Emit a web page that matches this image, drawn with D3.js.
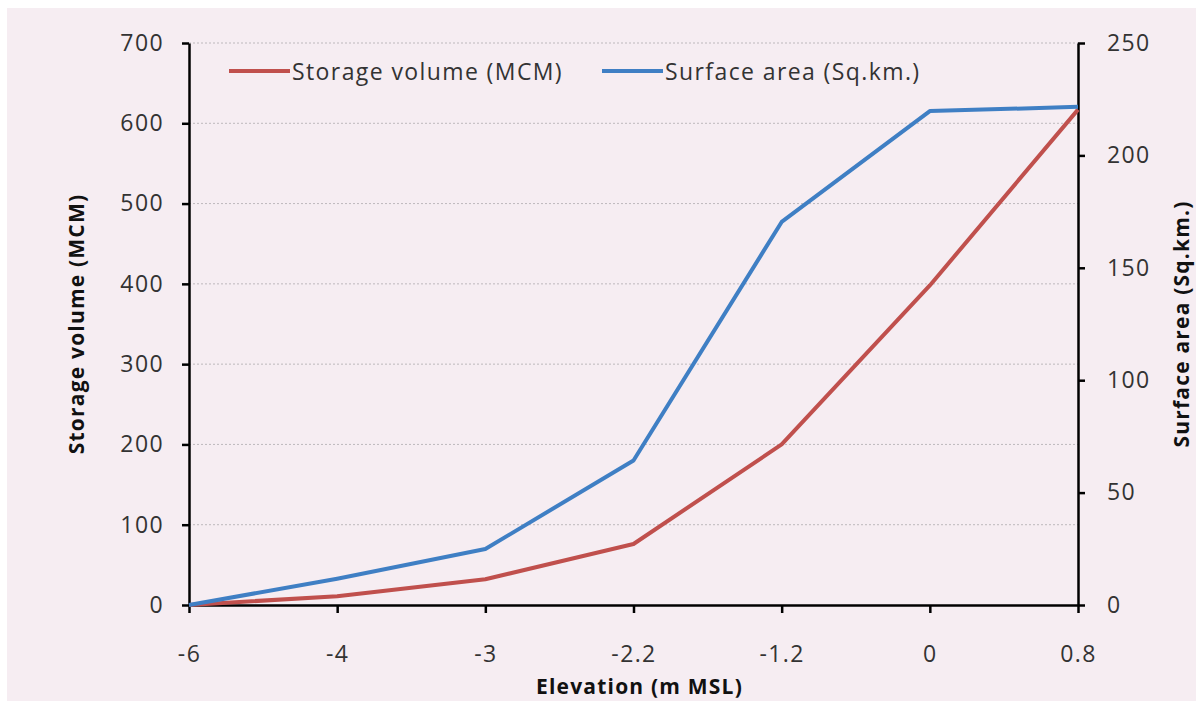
<!DOCTYPE html>
<html><head><meta charset="utf-8">
<script src="https://cdn.jsdelivr.net/npm/d3@7"></script>
<style>body{margin:0;background:#fff}svg{display:block}</style>
</head><body>
<script>
const categories = ["-6","-4","-3","-2.2","-1.2","0","0.8"];
const storageVolume = [0, 11, 32, 76, 200, 398, 617];
const surfaceArea = [0, 11.7, 24.9, 64.3, 170.4, 219.7, 221.6];
const leftTicks = [0,100,200,300,400,500,600,700];
const rightTicks = [0,50,100,150,200,250];

const W = 1196, H = 701;
const m = {l:189, r:W-1078, t:43, b:H-605};
const svg = d3.select("body").append("svg").attr("width",W).attr("height",H);
svg.append("rect").attr("x",7).attr("y",8).attr("width",1189).attr("height",693).attr("fill","#f6edf2");

const x = d3.scalePoint().domain(categories).range([m.l, W-m.r]);
const yL = d3.scaleLinear().domain([0,700]).range([H-m.b, m.t]);
const yR = d3.scaleLinear().domain([0,250]).range([H-m.b, m.t]);
const font = "'Open Sans', 'Liberation Sans', sans-serif";
const fs = 23, ls = 1.4;

// gridlines
svg.append("g").selectAll("line").data(leftTicks.slice(1)).join("line")
  .attr("x1",m.l).attr("x2",W-m.r).attr("y1",d=>yL(d)).attr("y2",d=>yL(d))
  .attr("stroke","#bdb8bc").attr("stroke-width",1).attr("stroke-dasharray","2,2");

function styleAxis(g){
  g.selectAll(".domain").attr("stroke","#000").attr("stroke-width",2.5);
  g.selectAll(".tick line").attr("stroke","#000").attr("stroke-width",2.5);
  g.selectAll(".tick text").attr("font-family",font).attr("font-size",fs)
    .attr("letter-spacing",ls).attr("fill","#333");
}
svg.append("g").attr("transform",`translate(${m.l},0)`)
  .call(d3.axisLeft(yL).tickValues(leftTicks).tickSize(7).tickPadding(18).tickSizeOuter(0))
  .call(styleAxis);
svg.append("g").attr("transform",`translate(${W-m.r},0)`)
  .call(d3.axisRight(yR).tickValues(rightTicks).tickSize(7).tickPadding(22).tickSizeOuter(0))
  .call(styleAxis);
svg.append("g").attr("transform",`translate(0,${H-m.b})`)
  .call(d3.axisBottom(x).tickSize(8).tickPadding(33).tickSizeOuter(0))
  .call(styleAxis);

const lineL = d3.line().x((d,i)=>x(categories[i])).y(d=>yL(d));
const lineR = d3.line().x((d,i)=>x(categories[i])).y(d=>yR(d));
svg.append("path").datum(storageVolume).attr("d",lineL).attr("fill","none")
  .attr("stroke","#c0504d").attr("stroke-width",4).attr("stroke-linejoin","round");
svg.append("path").datum(surfaceArea).attr("d",lineR).attr("fill","none")
  .attr("stroke","#3f7fc4").attr("stroke-width",4).attr("stroke-linejoin","round");

// legend
const legend = [
  {label:"Storage volume (MCM)", color:"#c0504d", x:229},
  {label:"Surface area (Sq.km.)", color:"#3f7fc4", x:602}
];
const lg = svg.append("g");
legend.forEach(d=>{
  lg.append("line").attr("x1",d.x).attr("x2",d.x+61).attr("y1",71).attr("y2",71)
    .attr("stroke",d.color).attr("stroke-width",4);
  lg.append("text").attr("x",d.x+63).attr("y",80).attr("font-family",font)
    .attr("font-size",fs).attr("letter-spacing",ls).attr("fill","#333").text(d.label);
});

// axis titles
function title(sel){
  return sel.attr("text-anchor","middle").attr("font-family",font).attr("font-size",21)
    .attr("letter-spacing",1.2).attr("font-weight","bold").attr("fill","#111");
}
title(svg.append("text").attr("transform",`translate(84,${(m.t+H-m.b)/2}) rotate(-90)`))
  .text("Storage volume (MCM)");
title(svg.append("text").attr("transform",`translate(1189,${(m.t+H-m.b)/2}) rotate(-90)`))
  .text("Surface area (Sq.km.)");
title(svg.append("text").attr("x",(m.l+W-m.r)/2+6).attr("y",694))
  .text("Elevation (m MSL)");
</script>
</body></html>
